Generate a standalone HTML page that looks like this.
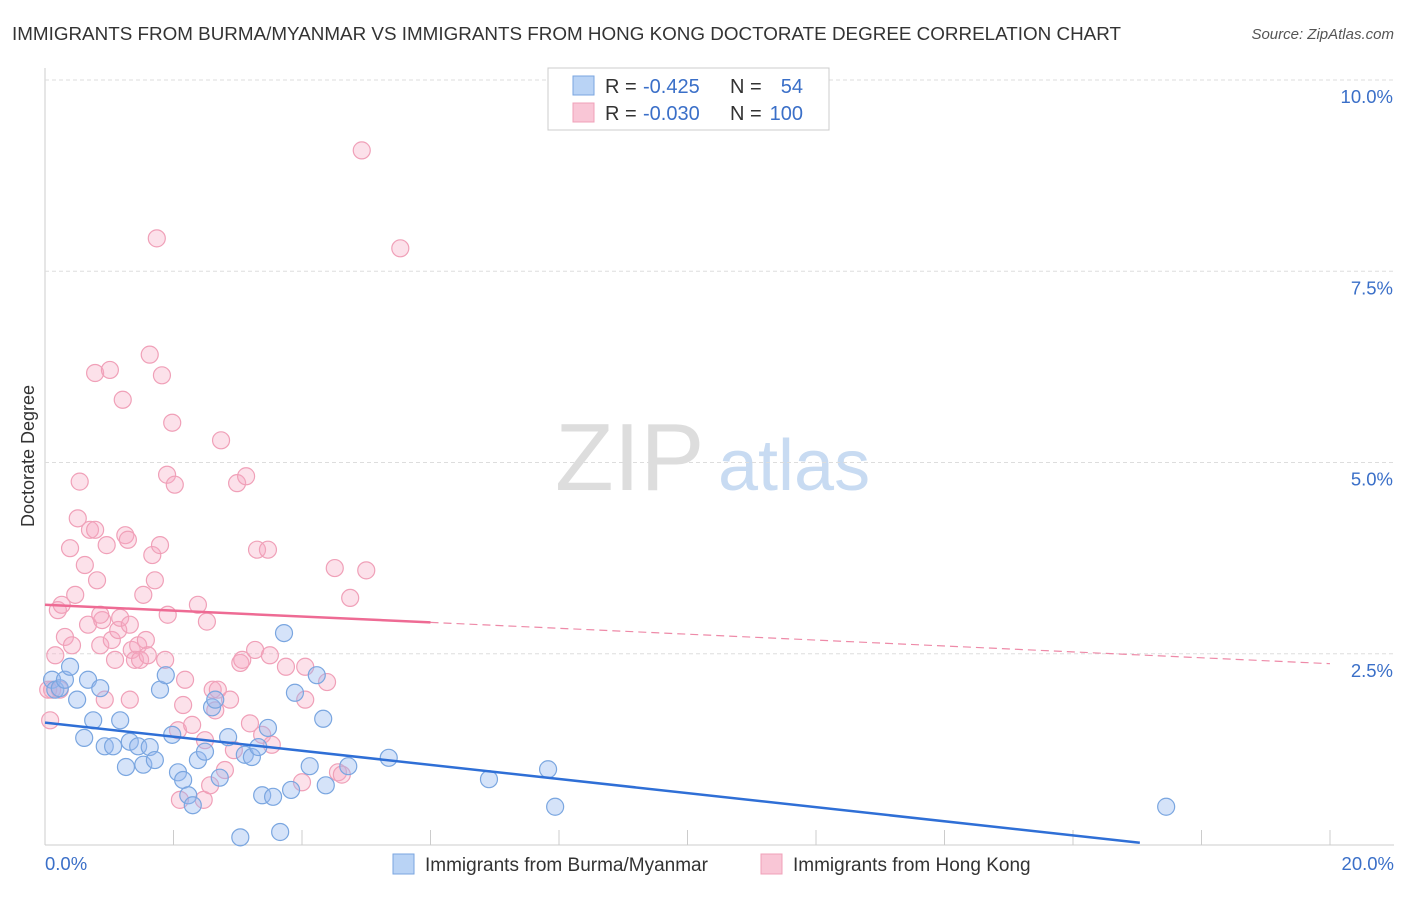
<!DOCTYPE html>
<html><head><meta charset="utf-8"><style>
body{margin:0;background:#fff;font-family:"Liberation Sans",sans-serif;}
svg text{font-family:"Liberation Sans",sans-serif;}
</style></head><body>
<svg width="1406" height="892" id="c">
<text x="12" y="40" font-size="18.5" fill="#333" textLength="1109" lengthAdjust="spacingAndGlyphs">IMMIGRANTS FROM BURMA/MYANMAR VS IMMIGRANTS FROM HONG KONG DOCTORATE DEGREE CORRELATION CHART</text>
<text x="1394" y="39" font-size="15" fill="#555" font-style="italic" text-anchor="end">Source: ZipAtlas.com</text>
<text x="34" y="456" font-size="18" fill="#333" text-anchor="middle" transform="rotate(-90 34 456)">Doctorate Degree</text>
<text x="555" y="490" font-size="96" fill="#ddd" font-family="Liberation Serif">ZIP</text>
<text x="718" y="490" font-size="72" fill="#c8dbf2">atlas</text>
<g id="grid"></g><g id="pts"></g><g id="lines"></g>
<g>
<rect x="548" y="68" width="281" height="62" fill="#fff" stroke="#ccc"/>
<rect x="573" y="76" width="21" height="19" fill="#b9d3f5" stroke="#7aa6e0"/>
<rect x="573" y="103" width="21" height="19" fill="#f9c6d6" stroke="#f0a0b8"/>
<text x="605" y="93" font-size="20" fill="#333">R =</text>
<text x="643" y="93" font-size="20" fill="#3a6fc8">-0.425</text>
<text x="730" y="93" font-size="20" fill="#333">N =</text>
<text x="803" y="93" font-size="20" fill="#3a6fc8" text-anchor="end">54</text>
<text x="605" y="120" font-size="20" fill="#333">R =</text>
<text x="643" y="120" font-size="20" fill="#3a6fc8">-0.030</text>
<text x="730" y="120" font-size="20" fill="#333">N =</text>
<text x="803" y="120" font-size="20" fill="#3a6fc8" text-anchor="end">100</text>
</g>
<g>
<rect x="393" y="854" width="21" height="20" fill="#b9d3f5" stroke="#7aa6e0"/>
<text x="425" y="871" font-size="19" fill="#333">Immigrants from Burma/Myanmar</text>
<rect x="761" y="854" width="21" height="20" fill="#f9c6d6" stroke="#f0a0b8"/>
<text x="793" y="871" font-size="19" fill="#333">Immigrants from Hong Kong</text>
</g>
</svg>
<script>
const xTicks=[0,2,4,6,8,10,12,14,16,18,20];
const yTicks=[2.5,5,7.5,10];
const yTickLabels=["2.5%","5.0%","7.5%","10.0%"];
const blueX=[0.11,0.16,0.23,0.31,0.39,0.50,0.61,0.67,0.75,0.86,0.93,1.06,1.17,1.26,1.32,1.45,1.53,1.63,1.71,1.79,1.88,1.98,2.07,2.15,2.23,2.30,2.38,2.49,2.60,2.65,2.72,2.85,3.04,3.11,3.22,3.32,3.38,3.47,3.55,3.66,3.72,3.83,3.89,4.12,4.23,4.33,4.37,4.72,5.35,6.91,7.83,7.94,17.45];
const blueY=[2.16,2.03,2.05,2.16,2.33,1.90,1.40,2.16,1.63,2.05,1.29,1.29,1.63,1.02,1.35,1.29,1.05,1.28,1.11,2.03,2.22,1.44,0.95,0.85,0.65,0.52,1.11,1.22,1.80,1.90,0.88,1.41,0.10,1.18,1.15,1.28,0.65,1.53,0.63,0.17,2.77,0.72,1.99,1.03,2.22,1.65,0.78,1.03,1.14,0.86,0.99,0.50,0.50];
const pinkX=[0.08,0.11,0.16,0.20,0.26,0.31,0.39,0.42,0.47,0.51,0.54,0.62,0.67,0.70,0.78,0.78,0.81,0.86,0.89,0.93,0.96,1.01,1.04,1.09,1.14,1.17,1.21,1.25,1.29,1.32,1.35,1.40,1.45,1.48,1.53,1.57,1.60,1.63,1.67,1.71,1.74,1.79,1.82,1.87,1.90,1.91,1.98,2.02,2.07,2.10,2.15,2.18,2.29,2.38,2.47,2.52,2.49,2.57,2.61,2.65,2.69,2.74,2.80,2.88,2.94,2.99,3.04,3.07,3.13,3.19,3.27,3.30,3.38,3.47,3.50,3.53,3.75,4.00,4.05,4.05,4.39,4.51,4.56,4.62,4.75,4.93,5.00,5.53,0.23,0.05,0.86,1.32];
const pinkY=[1.63,2.03,2.48,3.07,3.14,2.72,3.88,2.61,3.27,4.27,4.75,3.66,2.88,4.12,4.12,6.17,3.46,2.61,2.94,1.90,3.92,6.21,2.68,2.42,2.81,2.97,5.82,4.05,3.99,1.90,2.55,2.42,2.61,2.42,3.27,2.68,2.48,6.41,3.79,3.46,7.93,3.92,6.14,2.42,4.84,3.01,5.52,4.71,1.50,0.59,1.83,2.16,1.57,3.14,0.59,2.92,1.37,0.78,2.03,1.76,2.03,5.29,0.98,1.90,1.24,4.73,2.38,2.42,4.82,1.59,2.55,3.86,1.44,3.86,2.48,1.31,2.33,0.82,2.33,1.90,2.13,3.62,0.95,0.92,3.23,9.08,3.59,7.80,2.03,2.03,3.01,2.88];
const blueTrend=[0,1.6,17.04,0.03];
const pinkTrend=[0,3.14,6,2.91,20,2.37];
const X=v=>45+v*64.25, Y=v=>845-v*76.5;
const NS="http://www.w3.org/2000/svg";
function mk(t,a,p){const e=document.createElementNS(NS,t);for(const k in a)e.setAttribute(k,a[k]);p.appendChild(e);return e;}
const g=document.getElementById('grid'),P=document.getElementById('pts'),L=document.getElementById('lines');
let ax=mk('line',{x1:45,y1:68,x2:45,y2:845,stroke:'#ccc'},g);

let bx=mk('line',{x1:45,y1:845,x2:1394,y2:845,stroke:'#ccc'},g);

yTicks.forEach((v,i)=>{const l=mk('line',{x1:45,y1:Y(v),x2:1394,y2:Y(v),stroke:'#ddd','stroke-dasharray':'4 3'},g);

const t=mk('text',{x:1393,y:Y(v)+23,'font-size':18.5,fill:'#3a6fc8','text-anchor':'end'},g);t.textContent=yTickLabels[i];
});
xTicks.forEach(v=>{const l=mk('line',{x1:X(v),y1:830,x2:X(v),y2:845,stroke:'#ccc'},g);
});
[[0,"0.0%","start",45],[20,"20.0%","end",1394]].forEach(a=>{const t=mk('text',{x:a[3],y:870,'font-size':18.5,fill:'#3a6fc8','text-anchor':a[2]},g);t.textContent=a[1];
});
pinkX.forEach((v,i)=>{const c=mk('circle',{cx:X(v),cy:Y(pinkY[i]),r:8.5,fill:'rgba(246,170,196,0.35)',stroke:'#f0a0b8','stroke-width':1.2},P);
});
blueX.forEach((v,i)=>{const c=mk('circle',{cx:X(v),cy:Y(blueY[i]),r:8.5,fill:'rgba(150,186,240,0.4)',stroke:'#7aa6e0','stroke-width':1.2},P);
});
let b=mk('line',{x1:X(blueTrend[0]),y1:Y(blueTrend[1]),x2:X(blueTrend[2]),y2:Y(blueTrend[3]),stroke:'#2f6fd6','stroke-width':2.5},L);

let p1=mk('line',{x1:X(pinkTrend[0]),y1:Y(pinkTrend[1]),x2:X(pinkTrend[2]),y2:Y(pinkTrend[3]),stroke:'#ee6b94','stroke-width':2.5},L);

let p2=mk('line',{x1:X(pinkTrend[2]),y1:Y(pinkTrend[3]),x2:X(pinkTrend[4]),y2:Y(pinkTrend[5]),stroke:'#ee8aa8','stroke-width':1.2,'stroke-dasharray':'8 5'},L);

</script>
</body></html>
